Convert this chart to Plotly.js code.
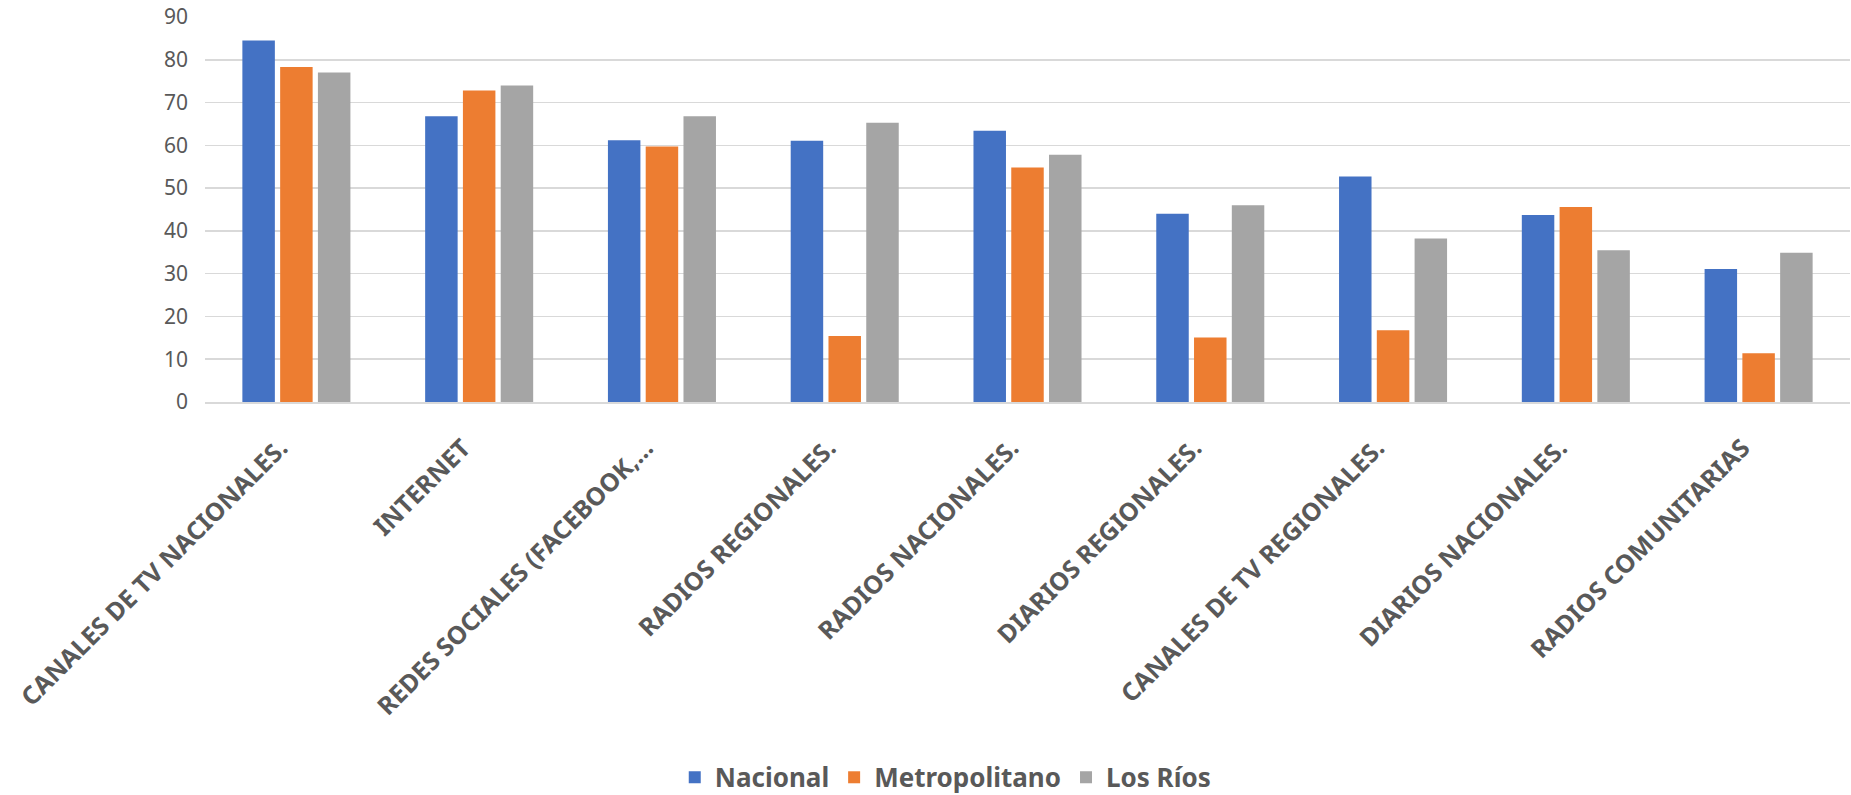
<!DOCTYPE html>
<html>
<head>
<meta charset="utf-8">
<script src="https://cdn.plot.ly/plotly-3.0.1.min.js"></script>
<style>html,body{margin:0;padding:0;background:#fff;}#chart{width:1851px;height:795px;}</style>
</head>
<body>
<div id="chart"></div>
<script>
const categories = [
  "CANALES DE TV NACIONALES.",
  "INTERNET",
  "REDES SOCIALES (FACEBOOK,...",
  "RADIOS REGIONALES.",
  "RADIOS NACIONALES.",
  "DIARIOS REGIONALES.",
  "CANALES DE TV REGIONALES.",
  "DIARIOS NACIONALES.",
  "RADIOS COMUNITARIAS"
];
const nacional      = [84.5, 66.8, 61.2, 61.1, 63.4, 44.0, 52.7, 43.7, 31.1];
const metropolitano = [78.3, 72.8, 59.7, 15.4, 54.8, 15.1, 16.8, 45.6, 11.4];
const losRios       = [77.0, 74.0, 66.8, 65.3, 57.8, 46.0, 38.2, 35.5, 34.9];
const seriesNames = ["Nacional", "Metropolitano", "Los Ríos"];
const yTicks = [0, 10, 20, 30, 40, 50, 60, 70, 80, 90];

const colors = ["#4472C4", "#ED7D31", "#A5A5A5"];
const values = [nacional, metropolitano, losRios];

const data = values.map((v, i) => ({
  type: "bar",
  name: seriesNames[i],
  x: categories,
  y: v,
  marker: {color: colors[i]},
  hoverinfo: "x+y+name"
}));

const font = "Noto Sans, Open Sans, sans-serif";
const layout = {
  width: 1851,
  height: 795,
  margin: {l: 205, r: 1, t: 17, b: 393, autoexpand: false},
  paper_bgcolor: "#ffffff",
  plot_bgcolor: "#ffffff",
  barmode: "group",
  bargap: 0.38,
  bargroupgap: 0.14,
  font: {family: font, color: "#595959"},
  xaxis: {
    type: "category",
    tickangle: -45,
    tickfont: {family: font, size: 25, color: "#595959", weight: "bold"},
    ticks: "",
    showgrid: false,
    showline: true,
    linecolor: "#d9d9d9",
    linewidth: 1.5,
    ticklabelstandoff: 20,
    ticklabelshift: -16,
    automargin: false,
    fixedrange: true
  },
  yaxis: {
    range: [0, 90],
    tickvals: yTicks,
    ticktext: yTicks.map(String),
    tickfont: {family: font, size: 21, color: "#595959"},
    showgrid: true,
    gridcolor: "#d9d9d9",
    gridwidth: 1.5,
    zeroline: false,
    showline: false,
    ticks: "",
    ticklabelstandoff: 16,
    automargin: false,
    fixedrange: true
  },
  showlegend: true,
  legend: {
    orientation: "h",
    x: 0.45,
    xanchor: "center",
    y: -0.975,
    yanchor: "middle",
    font: {family: font, size: 26, color: "#595959", weight: "bold"},
    itemclick: false,
    itemdoubleclick: false
  }
};

Plotly.newPlot("chart", data, layout, {displayModeBar: false, staticPlot: true});
</script>
</body>
</html>
